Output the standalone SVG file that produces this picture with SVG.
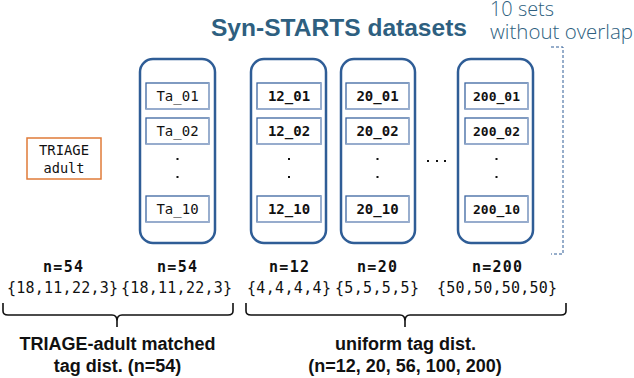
<svg xmlns="http://www.w3.org/2000/svg" width="634" height="378" viewBox="0 0 634 378">
<style>
.col{fill:#fff;stroke:#2f5d96;stroke-width:2.5}
.box{fill:#fff;stroke:#3c66a0;stroke-width:1.3}
.sh{stroke:#9fb3d1;stroke-width:1.6;fill:none}
.mono{font-family:"DejaVu Sans Mono","Liberation Mono",monospace;font-size:14px;fill:#111;text-anchor:middle}
.cnt{font-size:15px}
.b{font-weight:bold}
.dot{fill:#111}
.lab{font-family:"Liberation Sans",Arial,sans-serif;font-weight:bold;font-size:18px;fill:#111;text-anchor:middle}
.brk{fill:none;stroke:#111;stroke-width:1.6}
.note{font-family:"Open Sans","Liberation Sans",sans-serif;font-weight:300;font-size:20px;fill:#2e5f80}
</style>
<rect width="634" height="378" fill="#fff"/>
<text x="211" y="36" textLength="256" lengthAdjust="spacingAndGlyphs" style="font-family:'Liberation Sans',Arial,sans-serif;font-weight:bold;font-size:23px;fill:#2e5f80">Syn-STARTS datasets</text>
<g id="note">
<text class="note" x="490" y="16" textLength="64" lengthAdjust="spacingAndGlyphs">10 sets</text>
<text class="note" x="490" y="39" textLength="143" lengthAdjust="spacingAndGlyphs">without overlap</text>
<path d="M551 47 H563 V254 H551" fill="none" stroke="#2f5d96" stroke-width="1" stroke-dasharray="3,2"/>
</g>
<g id="triage">
<rect x="27" y="138" width="74" height="41" fill="#fff" stroke="#e07b39" stroke-width="1.5"/>
<text class="mono" x="64" y="155" textLength="50" lengthAdjust="spacingAndGlyphs">TRIAGE</text>
<text class="mono" x="64" y="173" textLength="41" lengthAdjust="spacingAndGlyphs">adult</text>
</g>
<g id="colTa">
<rect class="col" x="140" y="59" width="75" height="184" rx="13"/>
<rect class="box" x="146" y="83" width="63" height="26"/><path class="sh" d="M146 109 H209 V83"/>
<text class="mono" x="177.5" y="101">Ta_01</text>
<rect class="box" x="146" y="118" width="63" height="26"/><path class="sh" d="M146 144 H209 V118"/>
<text class="mono" x="177.5" y="136">Ta_02</text>
<rect class="dot" x="176.5" y="158" width="2" height="2"/><rect class="dot" x="176.5" y="176" width="2" height="2"/>
<rect class="box" x="146" y="196" width="63" height="26"/><path class="sh" d="M146 222 H209 V196"/>
<text class="mono" x="177.5" y="214">Ta_10</text>
</g>
<g id="col12">
<rect class="col" x="251" y="59" width="75" height="184" rx="13"/>
<rect class="box" x="257" y="83" width="64" height="26"/><path class="sh" d="M257 109 H321 V83"/>
<text class="mono b" x="289" y="101">12_01</text>
<rect class="box" x="257" y="118" width="64" height="26"/><path class="sh" d="M257 144 H321 V118"/>
<text class="mono b" x="289" y="136">12_02</text>
<rect class="dot" x="288" y="158" width="2" height="2"/><rect class="dot" x="288" y="176" width="2" height="2"/>
<rect class="box" x="257" y="196" width="64" height="26"/><path class="sh" d="M257 222 H321 V196"/>
<text class="mono b" x="289" y="214">12_10</text>
</g>
<g id="col20">
<rect class="col" x="341" y="59" width="74" height="184" rx="13"/>
<rect class="box" x="346" y="83" width="63" height="26"/><path class="sh" d="M346 109 H409 V83"/>
<text class="mono b" x="377.5" y="101">20_01</text>
<rect class="box" x="346" y="118" width="63" height="26"/><path class="sh" d="M346 144 H409 V118"/>
<text class="mono b" x="377.5" y="136">20_02</text>
<rect class="dot" x="376.5" y="158" width="2" height="2"/><rect class="dot" x="376.5" y="176" width="2" height="2"/>
<rect class="box" x="346" y="196" width="63" height="26"/><path class="sh" d="M346 222 H409 V196"/>
<text class="mono b" x="377.5" y="214">20_10</text>
</g>
<g id="ellipsis">
<rect class="dot" x="427" y="160" width="2" height="2"/><rect class="dot" x="436" y="160" width="2" height="2"/><rect class="dot" x="444" y="160" width="2" height="2"/>
</g>
<g id="col200">
<rect class="col" x="458" y="59" width="75" height="184" rx="13"/>
<rect class="box" x="465" y="83" width="63" height="26"/><path class="sh" d="M465 109 H528 V83"/>
<text class="mono" x="496.5" y="101" style="font-size:13px;font-weight:600">200_01</text>
<rect class="box" x="465" y="118" width="63" height="26"/><path class="sh" d="M465 144 H528 V118"/>
<text class="mono" x="496.5" y="136" style="font-size:13px;font-weight:600">200_02</text>
<rect class="dot" x="495.5" y="158" width="2" height="2"/><rect class="dot" x="495.5" y="176" width="2" height="2"/>
<rect class="box" x="465" y="196" width="63" height="26"/><path class="sh" d="M465 222 H528 V196"/>
<text class="mono" x="496.5" y="214" style="font-size:13px;font-weight:600">200_10</text>
</g>
<g id="counts">
<text class="mono cnt b" x="63" y="272" textLength="40" lengthAdjust="spacing">n=54</text>
<text class="mono cnt b" x="177" y="272" textLength="40" lengthAdjust="spacing">n=54</text>
<text class="mono cnt b" x="289" y="272" textLength="40" lengthAdjust="spacing">n=12</text>
<text class="mono cnt b" x="377" y="272" textLength="40" lengthAdjust="spacing">n=20</text>
<text class="mono cnt b" x="497" y="272" textLength="50" lengthAdjust="spacing">n=200</text>
<text class="mono cnt" x="62.5" y="293" textLength="111" lengthAdjust="spacing">{18,11,22,3}</text>
<text class="mono cnt" x="176.5" y="293" textLength="111" lengthAdjust="spacing">{18,11,22,3}</text>
<text class="mono cnt" x="289" y="293" textLength="84" lengthAdjust="spacing">{4,4,4,4}</text>
<text class="mono cnt" x="377" y="293" textLength="84" lengthAdjust="spacing">{5,5,5,5}</text>
<text class="mono cnt" x="497" y="293" textLength="120" lengthAdjust="spacing">{50,50,50,50}</text>
</g>
<g id="connectors">
<path class="brk" d="M3 303 V311 Q3 315 8 315 H112 Q117 315 117 321 V327 V321 Q117 315 122 315 H228 Q233 315 233 311 V303"/>
<path class="brk" d="M246 303 V311 Q246 315 251 315 H400 Q405 315 405 321 V327 V321 Q405 315 410 315 H561 Q566 315 566 311 V303"/>
</g>
<g id="labels">
<text class="lab" x="117.5" y="350">TRIAGE-adult matched</text>
<text class="lab" x="117.5" y="372">tag dist. (n=54)</text>
<text class="lab" x="405.5" y="350">uniform tag dist.</text>
<text class="lab" x="405" y="372">(n=12, 20, 56, 100, 200)</text>
</g>
</svg>
